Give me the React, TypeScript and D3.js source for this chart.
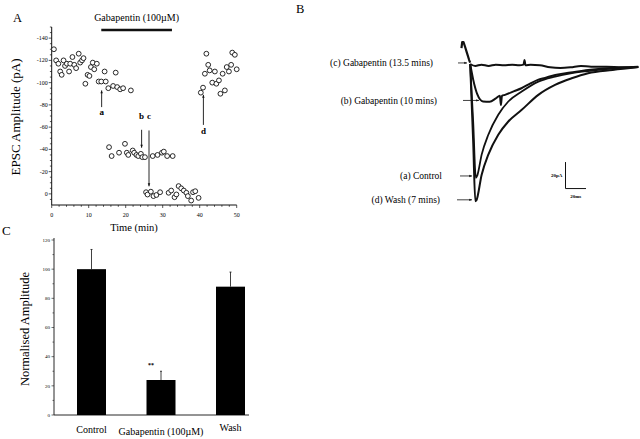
import React from "react";
import * as d3 from "d3";

// ---------- Panel A data: EPSC amplitude vs time ----------
const epscTime = [
  0.6, 1.2, 1.8, 2.3, 2.7, 3.2, 3.6, 4.1, 4.7, 5.0, 5.6, 6.1, 6.6, 7.3, 7.7, 8.2, 8.6,
  9.1, 9.7, 10.2, 10.6, 11.1, 11.5, 12.2, 12.7, 13.4, 14.3, 14.6, 15.3, 16.6, 17.3,
  17.7, 18.5, 19.3, 21.4,
  15.5, 16.2, 18.2, 19.8, 20.3, 20.7, 21.9, 22.3, 22.9, 23.4, 24.1, 24.5, 25.2, 27.3,
  28.6, 29.8, 30.3, 31.2, 32.7,
  25.5, 25.9, 26.8, 27.5, 28.3, 29.3, 31.6, 32.3, 33.2, 33.7, 34.3, 35.0, 35.7, 36.4,
  36.8, 37.7, 38.2, 38.8, 39.7,
  40.3, 40.9, 41.4, 41.8, 42.3, 42.7, 43.4, 44.1, 44.5, 45.2, 45.6, 46.2, 46.8, 47.3,
  47.9, 48.5, 48.8, 49.5, 50.0,
];
const epscAmp = [
  -130, -120, -117, -110, -107, -120, -115, -117, -110, -117, -123, -116, -113, -126, -118, -120, -122,
  -99, -107, -106, -114, -118, -112, -117, -101, -101, -110, -101, -95, -97, -109,
  -96, -94, -95, -93,
  -42, -34, -37, -45, -37, -35, -39, -37, -35, -34, -36, -33, -33, -34,
  -35, -37, -38, -34, -34,
  -1.5, 0.6, -2, 2, 1, -1.5, -1, -3, 3, 0.5, -7, -5, -3, -1,
  2, 6, -1.5, -2.4, 3.6,
  -91, -95.5, -108, -126, -116, -111, -100, -110, -99, -102, -90, -108, -93, -114,
  -110, -116, -127, -125, -112,
];
const drugStart = 13.4;
const drugEnd = 32.5;
const drugLabel = "Gabapentin (100\u00b5M)";
const xTicksA = [0, 10, 20, 30, 40, 50];
const yTicksA = [0, -20, -40, -60, -80, -100, -120, -140];
const arrowNames = ["a", "b", "c", "d"];
const arrowTime = [13.5, 24.3, 26.3, 41];
const arrowFrom = [-78, -57.6, -57, -62];
const arrowTo = [-93, -41.5, -6.8, -89];
const arrowLabelAmp = [-71, -67.5, -67, -53.5];

// ---------- Panel B data: current traces (ms, pA) ----------
const artifactT = [-1.5, -0.8, 0.5, 2, 4, 6, 7];
const artifactI = [12, 16.5, 16.5, 13, 8, 3, 1];
const traceCT = [7, 12, 18, 25, 32, 40, 48, 55, 59, 60, 61, 66, 75, 85, 95, 105, 115, 125, 140, 155, 171];
const traceCI = [0, -1.5, -0.5, -1.5, -0.5, -1, -0.5, -1, -0.5, 3, -1, -0.5, -1, -2.5, -3, -2.5, -1.5, -2, -2, -2.5, -2];
const traceBT = [7, 10, 14, 19.5, 26, 32, 36, 37, 38, 41, 50, 57, 65, 73, 80, 90, 105, 122, 145, 171];
const traceBI = [0, -12, -23, -28.3, -28.5, -26, -24, -31, -24, -23.3, -20.5, -18.3, -15, -12, -10.5, -8.3, -6.5, -4.5, -3, -2.3];
const traceAT = [7, 10, 12.5, 14, 18.2, 24.7, 34.4, 44.2, 57.3, 73.5, 89.8, 105, 122, 145, 171];
const traceAI = [0, -45, -86, -84, -68.4, -53.4, -38.3, -28.3, -20.8, -13.3, -9.5, -7, -5.3, -3.5, -2.3];
const traceDT = [7, 10, 12, 13, 18.2, 24.7, 34.4, 44.2, 57.3, 73.5, 89.8, 106, 122, 146, 171];
const traceDI = [0, -60, -103.5, -103, -83.5, -68.4, -53.4, -43.4, -34.6, -23.3, -15.8, -10.8, -7, -4.5, -2.3];
const traceLabels = ["(c) Gabapentin (13.5 mins)", "(b) Gabapentin (10 mins)", "(a) Control", "(d) Wash (7 mins)"];
const traceLabelI = [0.8, -27.5, -84.5, -102.5];
const scaleBarT = 100;
const scaleBarI = -94;
const scaleBarMs = 20;
const scaleBarPA = 20;

// ---------- Panel C data: normalised amplitude ----------
const barCats = ["Control", drugLabel, "Wash"];
const barVals = [100, 24, 88];
const barErr = [13.5, 6, 10];
const yTicksC = [0, 20, 40, 60, 80, 100, 120];

const FONT = "'Liberation Serif', 'Times New Roman', serif";

function Arrow({ x1, y1, x2, y2, head = 3, w = 0.9 }: any) {
  const ang = Math.atan2(y2 - y1, x2 - x1);
  const a1 = ang + Math.PI - 0.4;
  const a2 = ang + Math.PI + 0.4;
  const p = `M${x2},${y2}L${x2 + head * Math.cos(a1)},${y2 + head * Math.sin(a1)}L${x2 + head * Math.cos(a2)},${y2 + head * Math.sin(a2)}Z`;
  return (
    <g>
      <line x1={x1} y1={y1} x2={x2} y2={y2} stroke="#111" strokeWidth={w} />
      <path d={p} fill="#111" />
    </g>
  );
}

export default function App() {
  // Panel A scales
  const xA = d3.scaleLinear().domain([0, 50]).range([51.7, 236.7]);
  const yA = d3.scaleLinear().domain([10, -150]).range([205, 27]);
  const minorY = d3.range(5, -151, -5);
  const minorX = d3.range(0, 51, 2);

  // Panel B scales
  const xB = d3.scaleLinear().domain([0, 20]).range([463, 483.5]);
  const yB = d3.scaleLinear().domain([0, -20]).range([64, 90.5]);
  const lineB = (t: number[], i: number[], curve: any = d3.curveMonotoneX) =>
    d3.line<number>().x((_, k) => xB(t[k])).y((_, k) => yB(i[k])).curve(curve)(t) || "";

  // Panel C scales
  const xC = d3.scalePoint<string>().domain(barCats).range([91.5, 230.5]);
  const yC = d3.scaleLinear().domain([0, 120]).range([415, 240]);
  const barW = 29;

  return (
    <svg
      width={640}
      height={439}
      style={{ position: "absolute", left: 0, top: 0, background: "#fff" }}
      fontFamily={FONT}
    >
      <rect x={0} y={0} width={640} height={439} fill="#fff" />

      {/* ===== Panel A ===== */}
      <text x={13} y={22} fontSize={12.5}>A</text>
      <text x={(xA(drugStart) + xA(drugEnd)) / 2} y={21} fontSize={10} textAnchor="middle">{drugLabel}</text>
      <line x1={xA(drugStart)} x2={xA(drugEnd)} y1={30} y2={30} stroke="#111" strokeWidth={2.4} />

      <line x1={xA(0)} x2={xA(0)} y1={yA(-150)} y2={yA(10)} stroke="#111" strokeWidth={1} />
      <line x1={xA(0)} x2={xA(50)} y1={yA(10)} y2={yA(10)} stroke="#111" strokeWidth={1} />
      {minorY.map((v) => (
        <line key={"my" + v} x1={xA(0) - (v % 20 === 0 ? 3 : 1.8)} x2={xA(0)} y1={yA(v)} y2={yA(v)} stroke="#111" strokeWidth={0.7} />
      ))}
      {yTicksA.map((v) => (
        <text key={"ty" + v} x={xA(0) - 4} y={yA(v) + 2} fontSize={6} textAnchor="end">{v}</text>
      ))}
      {minorX.map((v) => (
        <line key={"mx" + v} x1={xA(v)} x2={xA(v)} y1={yA(10)} y2={yA(10) + (v % 10 === 0 ? 3 : 1.8)} stroke="#111" strokeWidth={0.7} />
      ))}
      {xTicksA.map((v) => (
        <text key={"tx" + v} x={xA(v)} y={yA(10) + 12} fontSize={6} textAnchor="middle">{v}</text>
      ))}
      <text x={134} y={231} fontSize={10.5} textAnchor="middle">Time (min)</text>
      <text transform="translate(19.5,117) rotate(-90)" fontSize={13} textAnchor="middle">EPSC Amplitude (pA)</text>

      {epscTime.map((t, k) => (
        <circle key={"p" + k} cx={xA(t)} cy={yA(epscAmp[k])} r={2.4} fill="#fff" stroke="#111" strokeWidth={0.9} />
      ))}
      {arrowNames.map((n, k) => (
        <g key={"ar" + n}>
          <Arrow x1={xA(arrowTime[k])} y1={yA(arrowFrom[k])} x2={xA(arrowTime[k])} y2={yA(arrowTo[k])} head={3.2} w={0.9} />
          <text x={xA(arrowTime[k])} y={yA(arrowLabelAmp[k])} fontSize={9} fontWeight="bold" textAnchor="middle">{n}</text>
        </g>
      ))}

      {/* ===== Panel B ===== */}
      <text x={296} y={13} fontSize={12.5}>B</text>
      <path d={lineB(artifactT, artifactI, d3.curveLinear)} fill="none" stroke="#111" strokeWidth={2.2} strokeLinejoin="round" />
      <path d={lineB(traceCT, traceCI)} fill="none" stroke="#111" strokeWidth={2} />
      <path d={lineB(traceBT, traceBI)} fill="none" stroke="#111" strokeWidth={2} />
      <path d={lineB(traceAT, traceAI)} fill="none" stroke="#111" strokeWidth={1.8} />
      <path d={lineB(traceDT, traceDI)} fill="none" stroke="#111" strokeWidth={2} />
      {traceLabels.map((s, k) => (
        <g key={"tl" + k}>
          <text x={[433, 437, 442, 440][k]} y={yB(traceLabelI[k]) + 3.3} fontSize={9.5} textAnchor="end">{s}</text>
          <Arrow x1={[458, 463, 460, 457][k]} y1={yB(traceLabelI[k])} x2={[467, 479, 472, 472][k]} y2={yB(traceLabelI[k])} head={3} w={0.8} />
        </g>
      ))}
      <path
        d={`M${xB(scaleBarT)},${yB(scaleBarI + scaleBarPA)}V${yB(scaleBarI)}H${xB(scaleBarT + scaleBarMs)}`}
        fill="none"
        stroke="#111"
        strokeWidth={1}
      />
      <text x={xB(scaleBarT) - 3} y={yB(scaleBarI + scaleBarPA / 2) + 1.5} fontSize={5} fontWeight="bold" textAnchor="end">20pA</text>
      <text x={xB(scaleBarT + scaleBarMs / 2)} y={yB(scaleBarI) + 9} fontSize={5} fontWeight="bold" textAnchor="middle">20ms</text>

      {/* ===== Panel C ===== */}
      <text x={2} y={235} fontSize={13}>C</text>
      <line x1={54} x2={54} y1={238} y2={yC(0)} stroke="#111" strokeWidth={0.9} />
      <line x1={54} x2={249} y1={yC(0)} y2={yC(0)} stroke="#111" strokeWidth={0.9} />
      {d3.range(0, 121, 10).map((v) => (
        <line key={"cy" + v} x1={54 - (v % 20 === 0 ? 2.5 : 1.5)} x2={54} y1={yC(v)} y2={yC(v)} stroke="#111" strokeWidth={0.6} />
      ))}
      {yTicksC.map((v) => (
        <text key={"cyl" + v} x={50} y={yC(v) + 1.7} fontSize={5} textAnchor="end">{v}</text>
      ))}
      <text transform="translate(29,329) rotate(-90)" fontSize={12.5} textAnchor="middle">Normalised Amplitude</text>
      {barCats.map((c, k) => {
        const cx = xC(c) as number;
        return (
          <g key={"bar" + k}>
            <rect x={cx - barW / 2} y={yC(barVals[k])} width={barW} height={yC(0) - yC(barVals[k])} fill="#000" />
            <line x1={cx} x2={cx} y1={yC(barVals[k])} y2={yC(barVals[k] + barErr[k])} stroke="#111" strokeWidth={0.8} />
            <line x1={cx - 1} x2={cx + 1} y1={yC(barVals[k] + barErr[k])} y2={yC(barVals[k] + barErr[k])} stroke="#111" strokeWidth={0.8} />
            <text x={cx} y={[433, 435, 430.5][k]} fontSize={10} textAnchor="middle">{c}</text>
          </g>
        );
      })}
      <text x={xC(drugLabel) as number - 10} y={yC(barVals[1] + barErr[1]) - 4} fontSize={6} fontWeight="bold" textAnchor="middle">**</text>
    </svg>
  );
}
